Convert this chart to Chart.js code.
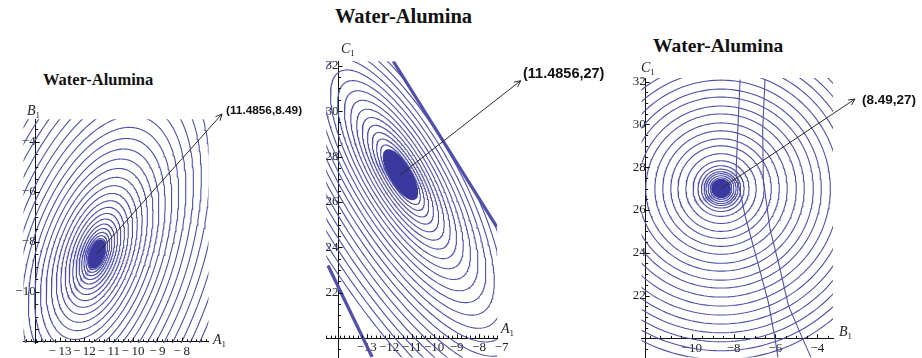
<!DOCTYPE html>
<html>
<head>
<meta charset="utf-8">
<script src="https://cdn.jsdelivr.net/npm/chart.js@4.4.1/dist/chart.umd.min.js"></script>
<style>
body { margin: 0; width: 922px; height: 358px; background: #fff; position: relative; overflow: hidden; }
canvas { position: absolute; }
.t { position: absolute; white-space: nowrap; line-height: 1; color: #111; }
.title { font-family: "Liberation Serif", serif; font-weight: bold; }
.note { font-family: "Liberation Sans", sans-serif; font-weight: bold; }
.ax { font-family: "Liberation Serif", serif; font-size: 14px; color: #222; }
.ax sub { font-style: normal; font-size: 9px; vertical-align: -3px; }
</style>
</head>
<body>
<canvas id="p1" width="240" height="258" style="left:0;top:100px"></canvas>
<canvas id="p2" width="230" height="330" style="left:300px;top:40px"></canvas>
<canvas id="p3" width="302" height="310" style="left:620px;top:60px"></canvas>

<div class="t title" style="left:43px;top:72px;font-size:16.5px">Water-Alumina</div>
<div class="t title" style="left:335px;top:6px;font-size:20.5px">Water-Alumina</div>
<div class="t title" style="left:653px;top:36px;font-size:19.5px">Water-Alumina</div>

<div class="t note" style="left:226px;top:105px;font-size:11.8px">(11.4856,8.49)</div>
<div class="t note" style="left:523px;top:66px;font-size:14.5px">(11.4856,27)</div>
<div class="t note" style="left:862px;top:93px;font-size:13.5px">(8.49,27)</div>

<div class="t ax" style="left:27px;top:104px"><i>B</i><sub>1</sub></div>
<div class="t ax" style="left:213px;top:333px"><i>A</i><sub>1</sub></div>
<div class="t ax" style="left:341px;top:42px"><i>C</i><sub>1</sub></div>
<div class="t ax" style="left:501px;top:322px"><i>A</i><sub>1</sub></div>
<div class="t ax" style="left:641px;top:61px"><i>C</i><sub>1</sub></div>
<div class="t ax" style="left:839px;top:325px"><i>B</i><sub>1</sub></div>

<script>
// ---- panel 1: A1 vs B1 ----
const center1 = [-11.49, -8.49];
const blob1 = 0.5;   // size of the dark core, B1 units
// contour levels, read as B1 distance above the minimum
const levels1 = [0.56, 0.66, 0.78, 0.92, 1.08, 1.26, 1.46, 1.68, 1.92, 2.18, 2.46, 2.76, 3.08, 3.42, 3.78,
  4.16, 4.56, 4.98, 5.42, 5.88, 6.36, 6.86, 7.38, 7.92, 8.48, 9.06, 9.66, 10.28, 10.92, 11.58];
const xTicks1 = [-13, -12, -11, -10, -9, -8];
const yTicks1 = [-10, -8, -6, -4];

// ---- panel 2: A1 vs C1 ----
const center2 = [-11.5, 27.2];
const blob2 = 0.46;
// contour levels, half width across the valley (C1 units)
const levels2 = [0.5, 0.6, 0.71, 0.83, 0.96, 1.1, 1.25, 1.41, 1.58, 1.76, 1.95, 2.15, 2.36, 2.58, 2.81,
  3.05, 3.3, 3.56, 3.83, 4.11, 4.4, 4.7];
const ridgeTop2 = [{x: -11.82, y: 32.2}, {x: -7.22, y: 24.9}];
const ridgeLow2 = [{x: -14.72, y: 23.2}, {x: -12.76, y: 19.17}];
const xTicks2 = [-13, -12, -11, -10, -9, -8, -7];
const yTicks2 = [22, 24, 26, 28, 30, 32];

// ---- panel 3: B1 vs C1 ----
const center3 = [-8.6, 27.0];
const blob3 = 0.42;
// contour levels, C1 radius
const levels3 = [0.5, 0.6, 0.7, 0.79, 0.91, 1.07, 1.3, 1.63, 2.0, 2.33, 2.7, 3.07, 3.49, 3.86, 4.28, 4.65,
  5.07, 5.49, 5.91, 6.33, 6.74, 7.16, 7.58, 8.0];
const crossA3 = [{x: -7.69, y: 32.1}, {x: -7.82, y: 29.29}, {x: -7.88, y: 27.74}, {x: -7.45, y: 25.72},
  {x: -6.89, y: 23.7}, {x: -6.34, y: 21.69}, {x: -6.02, y: 19.99}, {x: -5.88, y: 19.1}];
const crossB3 = [{x: -6.5, y: 32.1}, {x: -6.61, y: 29.75}, {x: -6.58, y: 27.43}, {x: -6.26, y: 25.1},
  {x: -5.78, y: 23.24}, {x: -5.38, y: 21.53}, {x: -4.68, y: 19.94}, {x: -4.3, y: 19.1}];
const xTicks3 = [-10, -8, -6, -4];
const yTicks3 = [22, 24, 26, 28, 30, 32];

const LINE = 'rgb(80,80,170)';
const CORE = 'rgb(58,58,158)';

// closed contour around c; s = semi-minor axis, ratio = major/minor, ang = tilt of major axis
function ring(c, s, ratio, ang, n) {
  const th = ang * Math.PI / 180, pts = [];
  for (let i = 0; i <= n; i++) {
    const t = 2 * Math.PI * i / n;
    const u = ratio * s * Math.cos(t), v = s * Math.sin(t);
    pts.push({x: c[0] + u * Math.cos(th) - v * Math.sin(th), y: c[1] + u * Math.sin(th) + v * Math.cos(th)});
  }
  return pts;
}

function side(l, p) {
  return (l[1].x - l[0].x) * (p.y - l[0].y) - (l[1].y - l[0].y) * (p.x - l[0].x);
}

function fmt(v) { return v < 0 ? '\u2212' + Math.abs(v) : String(v); }

function lineSet(data, width) {
  return {data: data, borderColor: LINE, borderWidth: width || 1.1, pointRadius: 0, showLine: true, tension: 0, spanGaps: false};
}

function coreSet(data) {
  return {data: data, borderColor: CORE, borderWidth: 1.5, backgroundColor: CORE, fill: 'shape', pointRadius: 0, showLine: true};
}

function axisTicks(minorX, minorY) {
  return {
    id: 'axisTicks',
    afterDraw(chart) {
      const ctx = chart.ctx, xs = chart.scales.x, ys = chart.scales.y;
      const y0 = ys.getPixelForValue(xs.options.position.y);
      const x0 = xs.getPixelForValue(ys.options.position.x);
      ctx.save();
      ctx.strokeStyle = '#111';
      ctx.lineWidth = 1;
      ctx.beginPath();
      for (let v = Math.ceil(xs.min / minorX) * minorX; v <= xs.max; v += minorX) {
        const major = xs.ticks.some(t => Math.abs(t.value - v) < 1e-6);
        const px = Math.round(xs.getPixelForValue(v)) + 0.5;
        ctx.moveTo(px, y0); ctx.lineTo(px, y0 - (major ? 4 : 2.5));
      }
      for (let v = Math.ceil(ys.min / minorY) * minorY; v <= ys.max; v += minorY) {
        const major = ys.ticks.some(t => Math.abs(t.value - v) < 1e-6);
        const py = Math.round(ys.getPixelForValue(v)) + 0.5;
        ctx.moveTo(x0, py); ctx.lineTo(x0 + (major ? 4 : 2.5), py);
      }
      ctx.stroke();
      ctx.restore();
    }
  };
}

function arrow(from, tip) {
  return {
    id: 'arrow',
    afterDraw(chart) {
      const ctx = chart.ctx;
      const x1 = chart.scales.x.getPixelForValue(from[0]), y1 = chart.scales.y.getPixelForValue(from[1]);
      const [x2, y2] = tip;
      const a = Math.atan2(y2 - y1, x2 - x1), h = 7, w = 0.45;
      ctx.save();
      ctx.strokeStyle = '#2a2a2a';
      ctx.lineWidth = 1;
      ctx.beginPath();
      ctx.moveTo(x1, y1); ctx.lineTo(x2, y2);
      ctx.moveTo(x2 - h * Math.cos(a - w), y2 - h * Math.sin(a - w));
      ctx.lineTo(x2, y2);
      ctx.lineTo(x2 - h * Math.cos(a + w), y2 - h * Math.sin(a + w));
      ctx.stroke();
      ctx.restore();
    }
  };
}

function scales(xr, yr, xAt, yAt, xt, yt, xfmt) {
  const font = {family: 'Liberation Serif', size: 13};
  return {
    x: {
      type: 'linear', min: xr[0], max: xr[1], position: {y: xAt}, z: 1,
      grid: {display: false, drawTicks: false},
      border: {display: true, color: '#111', width: 1},
      afterBuildTicks: ax => { ax.ticks = xt.map(v => ({value: v})); },
      ticks: {font: font, color: '#222', padding: 2, autoSkip: false, maxRotation: 0, callback: xfmt || fmt}
    },
    y: {
      type: 'linear', min: yr[0], max: yr[1], position: {x: yAt}, z: 1,
      grid: {display: false, drawTicks: false},
      border: {display: true, color: '#111', width: 1},
      afterBuildTicks: ax => { ax.ticks = yt.map(v => ({value: v})); },
      ticks: {font: font, color: '#222', padding: 2, autoSkip: false, callback: fmt}
    }
  };
}

function makeChart(id, datasets, sc, pad, plugins) {
  return new Chart(document.getElementById(id), {
    type: 'scatter',
    data: {datasets: datasets},
    options: {
      responsive: false, animation: false, events: [],
      layout: {padding: pad},
      plugins: {legend: {display: false}, tooltip: {enabled: false}},
      scales: sc
    },
    plugins: plugins
  });
}

// panel 1
const ang1 = 70, ratio1 = 2.0;
const k1 = Math.sqrt(Math.pow(Math.sin(ang1 * Math.PI / 180) / ratio1, 2) + Math.pow(Math.cos(ang1 * Math.PI / 180), 2));
const sets1 = levels1.map(l => lineSet(ring(center1, l * k1, ratio1, ang1, 220)));
sets1.push(coreSet(ring(center1, blob1 * k1, ratio1, ang1, 60)));
makeChart('p1', sets1,
  scales([-14.5, -6.9], [-12.05, -3.1], -12, -14, xTicks1, yTicks1, v => '\u2212\u2009' + Math.abs(v)),
  {left: 23.5, right: 31.5, top: 19.2, bottom: 15},
  [axisTicks(0.2, 0.5), arrow(center1, [222, 14])]);

// panel 2
const ang2 = -59, ratio2 = 3.0;
const c2 = {x: center2[0], y: center2[1]};
const sets2 = levels2.map(l => lineSet(ring(center2, l, ratio2, ang2, 260).map(p => {
  const inside = side(ridgeTop2, p) * side(ridgeTop2, c2) > 0 && side(ridgeLow2, p) * side(ridgeLow2, c2) > 0;
  return inside ? p : {x: p.x, y: null};
})));
sets2.push(lineSet(ridgeTop2, 3.2), lineSet(ridgeLow2, 3.2));
sets2.push(coreSet(ring(center2, blob2, ratio2 * 0.9, ang2, 60)));
makeChart('p2', sets2,
  scales([-14.8, -7.2], [19.15, 32.2], 20, -14.25, xTicks2, yTicks2),
  {left: 26.2, right: 32.8, top: 21.2, bottom: 12.6},
  [axisTicks(0.2, 0.5), arrow(center2, [220.7, 40.7])]);

// panel 3
const ratio3 = 1.03;
const sets3 = levels3.map(l => lineSet(ring(center3, l, ratio3, 0, 200)));
sets3.push(lineSet(crossA3), lineSet(crossB3));
sets3.push(coreSet(ring(center3, blob3, ratio3, 0, 50)));
makeChart('p3', sets3,
  scales([-12.4, -3.25], [19.1, 32.17], 20, -12.2, xTicks3, yTicks3),
  {left: 21.5, right: 89, top: 18, bottom: 12.4},
  [axisTicks(0.5, 0.5), arrow(center3, [235, 39])]);
</script>
</body>
</html>
